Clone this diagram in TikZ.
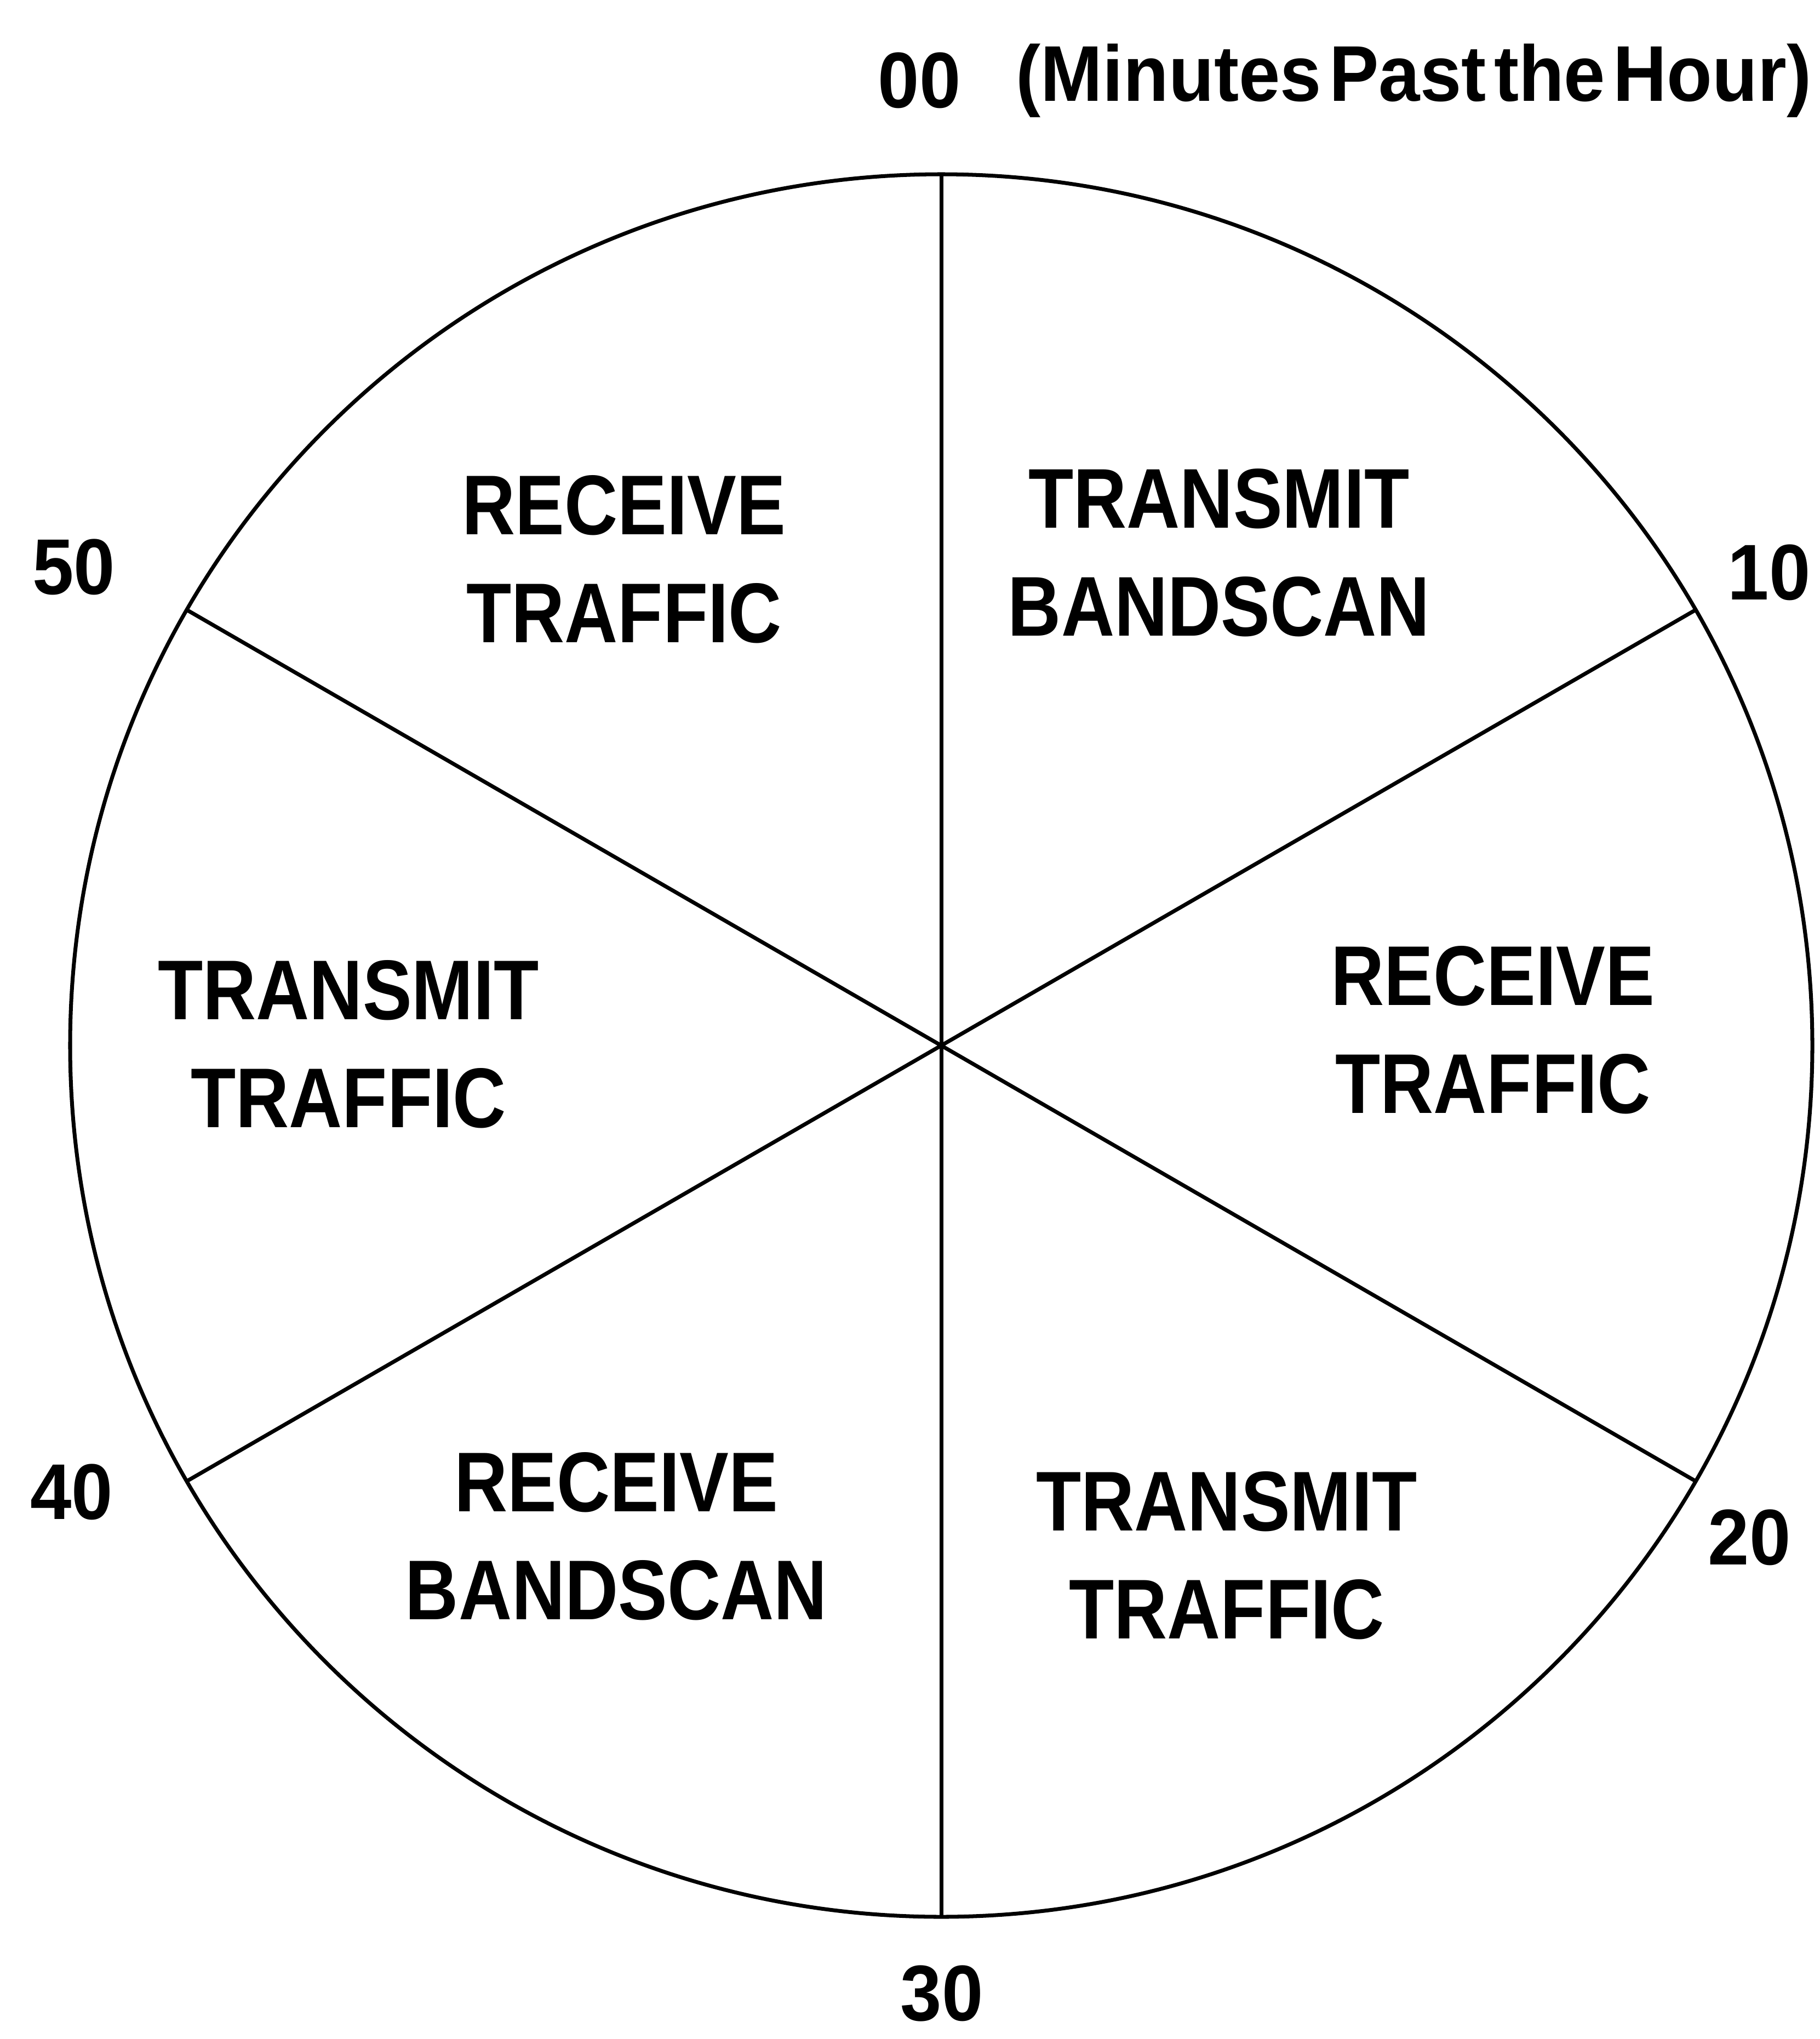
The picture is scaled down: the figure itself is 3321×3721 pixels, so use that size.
\documentclass[tikz,border=0pt]{standalone}
\usepackage{fontspec}
\newfontfamily\diagfont{Liberation Sans}[FakeStretch=0.87]
\newfontfamily\markfont{Liberation Sans}[FakeStretch=0.94]
\usetikzlibrary{positioning}

\providecommand{\colorLine}{black}
\providecommand{\rimthickness}{2pt}
\providecommand{\tightwords}{\spaceskip=0.1em\relax}

\begin{document}
\begin{tikzpicture}[
    x=0.01cm, y=-0.01cm,
    % Line styles
    rim_line/.style={
        line width=\rimthickness,
        draw=\colorLine
    },
    spoke_line/.style={
        line width=\rimthickness,
        draw=\colorLine
    },
    % Text styles
    sector_text/.style={
        font=\diagfont\bfseries\fontsize{44}{56}\selectfont,
        align=center,
        inner sep=0pt
    },
    minute_label/.style={
        font=\markfont\bfseries\fontsize{41}{49}\selectfont,
        inner sep=0pt
    }
]

    \useasboundingbox (0,0) rectangle (3321,3721);

    % ==================== CLOCK FACE ====================
    \coordinate (hub) at (1718, 1908);
    \coordinate (rim00) at (1718, 318);
    \coordinate (rim10) at (3095, 1113);
    \coordinate (rim20) at (3095, 2703);
    \coordinate (rim30) at (1718, 3498);
    \coordinate (rim40) at (341, 2703);
    \coordinate (rim50) at (341, 1113);

    % Outer circle
    \draw[rim_line] (hub) circle (1590);

    % Spokes every ten minutes
    \draw[spoke_line] (hub) -- (rim00);
    \draw[spoke_line] (hub) -- (rim10);
    \draw[spoke_line] (hub) -- (rim20);
    \draw[spoke_line] (hub) -- (rim30);
    \draw[spoke_line] (hub) -- (rim40);
    \draw[spoke_line] (hub) -- (rim50);

    % ==================== SECTOR TEXTS ====================
    \node[sector_text] (rx_traffic_a) at (1139, 1021) {RECEIVE\\TRAFFIC};
    \node[sector_text] (tx_bandscan) at (2225, 1009) {TRANSMIT\\BANDSCAN};
    \node[sector_text] (rx_traffic_b) at (2725, 1880) {RECEIVE\\TRAFFIC};
    \node[sector_text] (tx_traffic_a) at (2239, 2839) {TRANSMIT\\TRAFFIC};
    \node[sector_text] (rx_bandscan) at (1125, 2804) {RECEIVE\\BANDSCAN};
    \node[sector_text] (tx_traffic_b) at (636, 1906) {TRANSMIT\\TRAFFIC};

    % ==================== MINUTE LABELS ====================
    \node[minute_label] (lbl00) at (1678, 147) {00};
    \node[minute_label, right=1.0cm of lbl00] (caption) {\tightwords(Minutes Past the Hour)};
    \node[minute_label] (lbl10) at (3229, 1045) {10};
    \node[minute_label] (lbl20) at (3193, 2806) {20};
    \node[minute_label] (lbl30) at (1719, 3638) {30};
    \node[minute_label] (lbl40) at (131, 2723) {40};
    \node[minute_label] (lbl50) at (135, 1035) {50};

\end{tikzpicture}
\end{document}
